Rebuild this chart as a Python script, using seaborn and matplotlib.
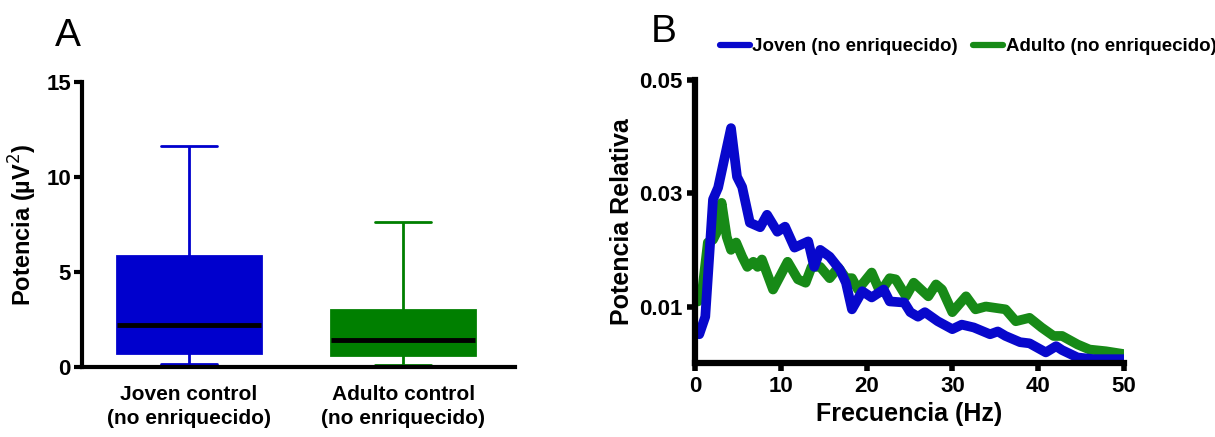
import matplotlib
matplotlib.use('Agg')
import matplotlib.pyplot as plt
import seaborn as sns
import pandas as pd

# Panel A: resumen de caja (min, Q1, mediana, Q3, max) por grupo
grupos = ["Joven control\n(no enriquecido)", "Adulto control\n(no enriquecido)"]
joven_caja = [0.17, 0.75, 2.2, 5.86, 11.62]
adulto_caja = [0.10, 0.65, 1.45, 2.98, 7.64]
colores_caja = ["#0000CD", "#007F00"]

# Panel B: espectro de potencia relativa
freq_joven = [0.5, 1.2, 2.1, 2.7, 4.2, 4.9, 5.5, 6.4, 7.6, 8.4, 9.6, 10.5, 11.6, 13.2, 13.9,
              14.6, 15.7, 16.9, 17.6, 18.3, 19.5, 20.6, 22.0, 22.7, 24.4, 25.1, 26.0, 26.8,
              28.3, 30.0, 31.1, 32.5, 34.4, 35.3, 36.2, 37.9, 39.0, 40.9, 42.1, 42.8, 44.6,
              46.5, 50.0]
pot_joven = [0.0051, 0.0082, 0.0289, 0.0310, 0.0415, 0.0329, 0.0311, 0.0248, 0.0240, 0.0262,
             0.0232, 0.0241, 0.0204, 0.0215, 0.0170, 0.0200, 0.0188, 0.0165, 0.0142, 0.0095,
             0.0127, 0.0116, 0.0130, 0.0109, 0.0107, 0.0090, 0.0082, 0.0090, 0.0074, 0.0060,
             0.0068, 0.0063, 0.0051, 0.0056, 0.0048, 0.0037, 0.0035, 0.0019, 0.0030, 0.0023,
             0.0010, 0.0007, 0.0007]
freq_adulto = [0.35, 0.9, 1.5, 2.1, 2.5, 3.1, 3.7, 4.2, 4.8, 5.5, 6.1, 6.8, 7.3, 7.8, 9.1, 9.9,
               10.8, 12.0, 12.9, 13.6, 14.6, 15.7, 16.7, 17.6, 18.3, 19.0, 20.6, 21.6, 22.7,
               23.4, 24.6, 25.5, 27.2, 28.1, 28.8, 30.0, 31.6, 32.7, 33.9, 36.2, 37.4, 39.0,
               40.4, 41.8, 42.8, 44.6, 46.0, 47.9, 50.0]
pot_adulto = [0.0109, 0.0135, 0.0213, 0.0218, 0.0230, 0.0283, 0.0223, 0.0200, 0.0213, 0.0188,
              0.0170, 0.0179, 0.0170, 0.0183, 0.0130, 0.0153, 0.0179, 0.0148, 0.0142, 0.0170,
              0.0170, 0.0150, 0.0169, 0.0150, 0.0150, 0.0130, 0.0160, 0.0125, 0.0150, 0.0148,
              0.0118, 0.0142, 0.0118, 0.0139, 0.0130, 0.0090, 0.0118, 0.0095, 0.0100, 0.0095,
              0.0074, 0.0080, 0.0063, 0.0048, 0.0048, 0.0033, 0.0024, 0.0021, 0.0016]
series = ["Joven (no enriquecido)", "Adulto (no enriquecido)"]
colores_linea = ["#0808CC", "#178A17"]

sns.set_style("ticks")
plt.rcParams['font.family'] = ['Liberation Sans', 'DejaVu Sans']
for k in ['text.color', 'axes.labelcolor', 'xtick.color', 'ytick.color', 'axes.edgecolor']:
    plt.rcParams[k] = 'black'

fig = plt.figure(figsize=(12.15, 4.37), dpi=100)
axA = fig.add_axes([0.0675, 0.160, 0.356, 0.652])
axB = fig.add_axes([0.572, 0.169, 0.353, 0.648])

# --- Panel A ---
df_box = pd.DataFrame({
    "grupo": [grupos[0]] * 5 + [grupos[1]] * 5,
    "valor": joven_caja + adulto_caja,
})
for g, c in zip(grupos, colores_caja):
    sns.boxplot(data=df_box[df_box["grupo"] == g], x="grupo", y="valor", order=grupos,
                color=c, linecolor=c, saturation=1, width=0.67, whis=(0, 100),
                showfliers=False, linewidth=2, capwidths=0.26,
                medianprops=dict(color="black", linewidth=3.5), ax=axA)
axA.set_ylim(0, 15)
axA.set_xlim(-0.5, 1.52)
axA.set_yticks([0, 5, 10, 15])
axA.set_xlabel("")
axA.set_ylabel("Potencia (µV$^2$)", fontsize=17, fontweight="bold", labelpad=5)
axA.tick_params(axis="y", width=3, length=6, labelsize=16, pad=2)
axA.tick_params(axis="x", length=0, labelsize=15, pad=13)
for lbl in axA.get_xticklabels() + axA.get_yticklabels():
    lbl.set_fontweight("bold")
    lbl.set_linespacing(1.3)
sns.despine(ax=axA)
for s in ["left", "bottom"]:
    axA.spines[s].set_linewidth(3)

# --- Panel B ---
df_lin = pd.concat([
    pd.DataFrame({"freq": freq_adulto, "pot": pot_adulto, "serie": series[1]}),
    pd.DataFrame({"freq": freq_joven, "pot": pot_joven, "serie": series[0]}),
])
sns.lineplot(data=df_lin, x="freq", y="pot", hue="serie", hue_order=series[::-1],
             palette=colores_linea[::-1], linewidth=7, solid_capstyle="round",
             solid_joinstyle="round", legend=False, ax=axB)
axB.set_xlim(0, 50)
axB.set_ylim(0, 0.05)
axB.set_xticks([0, 10, 20, 30, 40, 50])
axB.set_yticks([0.01, 0.03, 0.05])
axB.set_yticklabels(["0.01", "0.03", "0.05"])
axB.set_xlabel("Frecuencia (Hz)", fontsize=18, fontweight="bold")
axB.set_ylabel("Potencia Relativa", fontsize=18, fontweight="bold", labelpad=4)
axB.tick_params(width=4, length=6, labelsize=16, pad=3)
for lbl in axB.get_xticklabels() + axB.get_yticklabels():
    lbl.set_fontweight("bold")
sns.despine(ax=axB)
for s in ["left", "bottom"]:
    axB.spines[s].set_linewidth(4.5)

handles = [plt.Line2D([], [], color=colores_linea[0], lw=4.5),
           plt.Line2D([], [], color=colores_linea[1], lw=4.5)]
axB.legend(handles, series, loc="lower left", bbox_to_anchor=(0.04, 1.06), ncol=2,
           frameon=False, handlelength=1.6, handletextpad=0.15, columnspacing=0.8,
           borderaxespad=0, prop=dict(weight="bold", size=13.5))

fig.text(0.045, 0.895, "A", fontsize=28)
fig.text(0.536, 0.905, "B", fontsize=28)

fig.savefig("out.png", dpi=100)
